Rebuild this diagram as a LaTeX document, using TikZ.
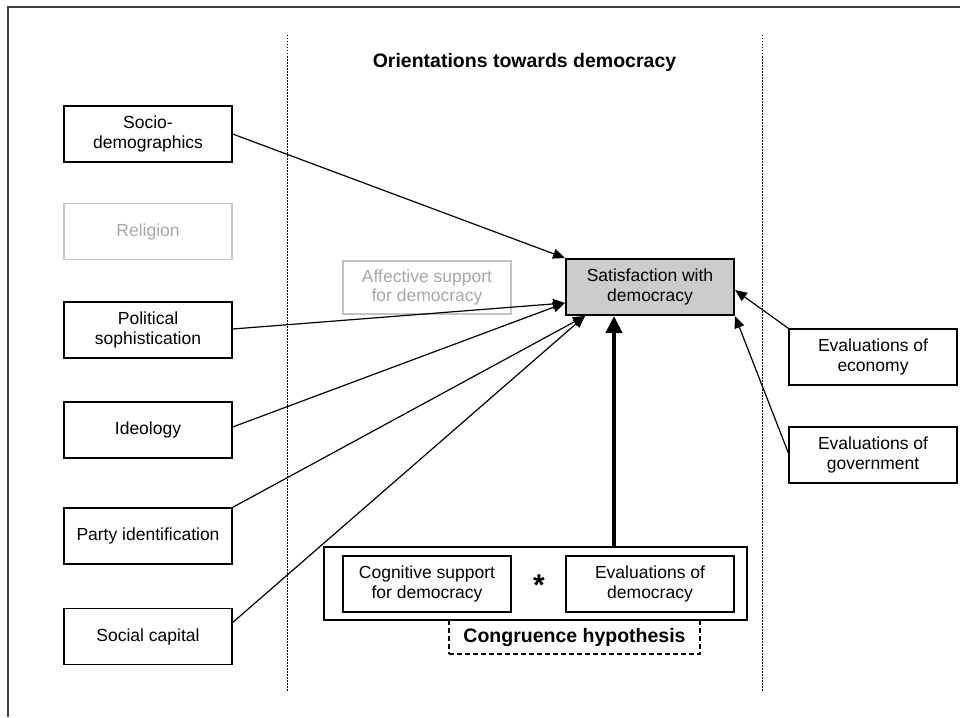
\documentclass[tikz,border=0pt]{standalone}
\usepackage{fontspec}
\setmainfont{Liberation Sans}
\usetikzlibrary{arrows.meta,calc}
\definecolor{framegray}{HTML}{404040}
\definecolor{lightline}{HTML}{C4C4C4}
\definecolor{lighttext}{HTML}{A8A8A8}
\definecolor{satfill}{HTML}{CCCCCC}
\tikzset{
  box/.style={draw=black, line width=1.3pt, minimum width=168pt, minimum height=56pt, inner sep=0pt, align=center, font=\fontsize{17.5}{19.5}\selectfont},
  greybox/.style={box, draw=lightline, text=lighttext},
  link/.style={line width=1.2pt, -{Triangle[length=12pt,width=10pt]}},
  biglink/.style={line width=4pt, -{Triangle[length=17pt,width=16pt]}},
  divider/.style={line width=1pt, dash pattern=on 1.5pt off 1.5pt},
  boldtext/.style={font=\fontsize{19.5}{22}\selectfont\bfseries, inner sep=0pt}
}
\begin{document}
\begin{tikzpicture}[x=1pt,y=-1pt]
\useasboundingbox (0,0) rectangle (960,717);
% frame
\draw[framegray, line width=1.5pt] (8,717) -- (8,7) -- (960,7);
% dividers
\draw[divider] (287,35) -- (287,692);
\draw[divider] (762,35) -- (762,692);
% title
\node[boldtext] (title) at (524.5,62) {Orientations towards democracy};
% left boxes
\node[box] (socio) at (148,134) {Socio-\\demographics};
\node[greybox] (relig) at (148,231.5) {Religion};
\node[box] (polsoph) at (148,330) {Political\\sophistication};
\node[box] (ideo) at (148,430) {Ideology};
\node[box] (party) at (148,536) {Party identification};
\node[box] (social) at (148,636.5) {Social capital};
% middle
\node[greybox, minimum height=53pt] (affect) at (427,287.5) {Affective support\\for democracy};
\node[box, fill=satfill, line width=2pt] (sat) at (650,287) {Satisfaction with\\democracy};
\node[box, minimum width=423pt, minimum height=73pt] (cong) at (535.5,583.5) {};
\node[box] (cogn) at (427,584) {Cognitive support\\for democracy};
\node[box] (evdem) at (650,584) {Evaluations of\\democracy};
\node[font=\fontsize{30}{30}\selectfont\bfseries, inner sep=0pt] (star) at (539,585) {*};
\node[draw, dash pattern=on 5pt off 3pt, line width=1.1pt, minimum width=251pt, minimum height=34pt, inner sep=0pt, font=\fontsize{19.5}{22}\selectfont\bfseries] (hyp) at (574.5,637) {Congruence hypothesis};
% right
\node[box] (econ) at (873,357) {Evaluations of\\economy};
\node[box] (gov) at (873,455) {Evaluations of\\government};
% connectors
\coordinate (tipA) at ($(sat.south west)+(0,-13)$);
\coordinate (tipB) at ($(sat.south west)+(20,0)$);
\coordinate (tipC) at ($(sat.south)+(-36,0)$);
\coordinate (tipD) at ($(sat.east)+(0,3)$);
\draw[link] (socio.east) -- (sat.north west);
\draw[link] ($(polsoph.east)+(0,-1)$) -- (tipA);
\draw[link] ($(ideo.east)+(0,-3)$) -- (tipA);
\draw[link] (party.north east) -- (tipB);
\draw[link] ($(social.east)+(0,-14)$) -- (tipB);
\draw[link] (econ.north west) -- (tipD);
\draw[link] ($(gov.west)+(0,-2)$) -- (sat.south east);
\draw[biglink] (cong.north -| tipC) -- (tipC);
\end{tikzpicture}
\end{document}
